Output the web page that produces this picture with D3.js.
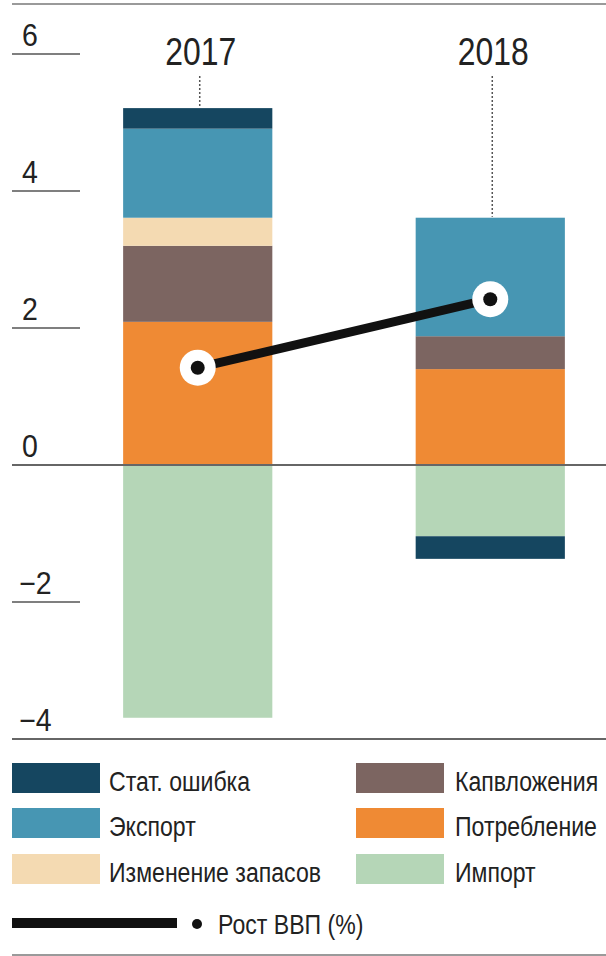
<!DOCTYPE html>
<html>
<head>
<meta charset="utf-8">
<script src="https://cdn.jsdelivr.net/npm/d3@7"></script>
<style>
  html, body { margin: 0; padding: 0; background: #fff; }
  svg { display: block; font-family: "Liberation Sans", Arial, sans-serif; }
</style>
</head>
<body>
<div id="chart"></div>
<script>
// --- Data ---
const years = ["2017", "2018"];
const keys = ["Импорт", "Потребление", "Капвложения", "Изменение запасов", "Экспорт", "Стат. ошибка"];
const importVals      = [-3.69, -1.04];
const consumptionVals = [2.09, 1.40];
const capexVals       = [1.11, 0.48];
const inventoryVals   = [0.41, 0.00];
const exportVals      = [1.30, 1.73];
const statErrorVals   = [0.30, -0.33];
const gdpGrowth       = [1.42, 2.42];
const yTicks = [6, 4, 2, 0, -2, -4];

const legendLeft  = ["Стат. ошибка", "Экспорт", "Изменение запасов"];
const legendRight = ["Капвложения", "Потребление", "Импорт"];
const lineLabel = "Рост ВВП (%)";

const colors = {
    "Стат. ошибка": "#154660",
    "Экспорт": "#4796b3",
    "Изменение запасов": "#f4dab2",
    "Капвложения": "#7c6561",
    "Потребление": "#ef8a34",
    "Импорт": "#b5d6b7"
};

const rows = years.map((yr, i) => ({
    year: yr,
    "Импорт": importVals[i],
    "Потребление": consumptionVals[i],
    "Капвложения": capexVals[i],
    "Изменение запасов": inventoryVals[i],
    "Экспорт": exportVals[i],
    "Стат. ошибка": statErrorVals[i]
}));

// --- Setup ---
const width = 606, height = 956;
const condensed = 0.84;

const svg = d3.select("#chart").append("svg")
    .attr("width", width)
    .attr("height", height);

const x = d3.scaleBand().domain(years).range([50, 638]).paddingInner(0.49).paddingOuter(0.25);
const y = d3.scaleLinear().domain([-4, 6]).range([739, 54]);

// top rule
svg.append("line").attr("x1", 12).attr("x2", width).attr("y1", 4).attr("y2", 4)
    .attr("stroke", "#9a9a9a").attr("stroke-width", 2);

// --- Y axis: short tick lines with labels above ---
const ticks = svg.append("g");
ticks.selectAll("line").data(yTicks.filter(d => d !== 0 && d !== -4)).join("line")
    .attr("x1", 12).attr("x2", 80)
    .attr("y1", d => y(d)).attr("y2", d => y(d))
    .attr("stroke", "#555").attr("stroke-width", 1.5);
ticks.selectAll("text").data(yTicks).join("text")
    .attr("transform", d => `translate(${d < 0 ? 19 : 22},${y(d) - 8}) scale(0.92,1)`)
    .attr("font-size", 31)
    .attr("fill", "#222")
    .text(d => d < 0 ? "\u2212" + Math.abs(d) : d);

// --- Stacked bars ---
const series = d3.stack().keys(keys).offset(d3.stackOffsetDiverging)(rows);

svg.append("g").selectAll("g").data(series).join("g")
    .attr("fill", d => colors[d.key])
    .selectAll("rect").data(d => d).join("rect")
    .attr("x", d => x(d.data.year))
    .attr("width", x.bandwidth())
    .attr("y", d => y(Math.max(d[0], d[1])))
    .attr("height", d => Math.abs(y(d[0]) - y(d[1])));

// zero line and bottom line
svg.append("line").attr("x1", 12).attr("x2", width).attr("y1", y(0)).attr("y2", y(0))
    .attr("stroke", "#666").attr("stroke-width", 2);
svg.append("line").attr("x1", 12).attr("x2", width).attr("y1", y(-4)).attr("y2", y(-4))
    .attr("stroke", "#666").attr("stroke-width", 2);

// --- Year labels with dotted leaders ---
const tops = years.map((yr, i) => d3.max(series, s => s[i][1]));
const yearG = svg.append("g");
years.forEach((yr, i) => {
    const cx = x(yr) + x.bandwidth() / 2;
    yearG.append("line")
        .attr("x1", cx + 2).attr("x2", cx + 2)
        .attr("y1", 76).attr("y2", y(tops[i]) - 1)
        .attr("stroke", "#555").attr("stroke-width", 1.5)
        .attr("stroke-dasharray", "2,2");
    yearG.append("text")
        .attr("transform", `translate(${cx + 3},65) scale(${condensed},1)`)
        .attr("text-anchor", "middle")
        .attr("font-size", 38)
        .attr("fill", "#222")
        .text(yr);
});

// --- GDP growth line ---
const pts = years.map((yr, i) => [x(yr) + x.bandwidth() / 2, y(gdpGrowth[i])]);
svg.append("path")
    .attr("d", d3.line()(pts))
    .attr("fill", "none")
    .attr("stroke", "#111")
    .attr("stroke-width", 9);
svg.append("g").selectAll("circle").data(pts).join("circle")
    .attr("cx", d => d[0]).attr("cy", d => d[1]).attr("r", 18)
    .attr("fill", "#fff");
svg.append("g").selectAll("circle").data(pts).join("circle")
    .attr("cx", d => d[0]).attr("cy", d => d[1]).attr("r", 7)
    .attr("fill", "#111");

// --- Legend ---
const legend = svg.append("g");
const rowY = [763, 808, 854];
function legendItem(name, sx, tx, ry) {
    legend.append("rect").attr("x", sx).attr("y", ry).attr("width", 88).attr("height", 30)
        .attr("fill", colors[name]);
    legend.append("text")
        .attr("transform", `translate(${tx},${ry + 28}) scale(${condensed},1)`)
        .attr("font-size", 27.5)
        .attr("fill", "#222")
        .text(name);
}
legendLeft.forEach((n, i) => legendItem(n, 12, 109, rowY[i]));
legendRight.forEach((n, i) => legendItem(n, 356, 455, rowY[i]));

legend.append("line").attr("x1", 12).attr("x2", 177).attr("y1", 923).attr("y2", 923)
    .attr("stroke", "#111").attr("stroke-width", 10);
legend.append("circle").attr("cx", 197).attr("cy", 924).attr("r", 5).attr("fill", "#111");
legend.append("text")
    .attr("transform", `translate(218,934) scale(${condensed},1)`)
    .attr("font-size", 27.5)
    .attr("fill", "#222")
    .text(lineLabel);

// bottom rule
svg.append("line").attr("x1", 12).attr("x2", width).attr("y1", 955).attr("y2", 955)
    .attr("stroke", "#9a9a9a").attr("stroke-width", 2);
</script>
</body>
</html>
